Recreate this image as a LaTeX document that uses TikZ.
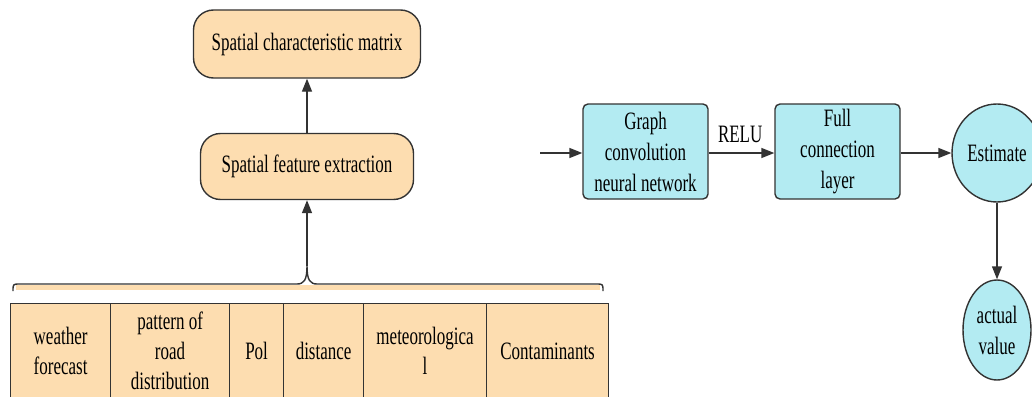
\documentclass[tikz,border=0pt]{standalone}
\usepackage{fontspec}
\setmainfont{Liberation Serif}[FakeStretch=0.68]
\usetikzlibrary{arrows.meta,shapes.geometric}
\definecolor{peach}{HTML}{FDDDB0}
\definecolor{cyanfill}{HTML}{B3EBF2}
\definecolor{edge}{HTML}{333333}
\begin{document}
\begin{tikzpicture}[x=1pt,y=-1pt,
  txt/.style={font=\fontsize{25}{31}\selectfont, align=center, text=black},
  pill/.style={txt, draw=edge, line width=1.4pt, fill=peach, rounded corners=20pt, inner sep=0pt},
  cbox/.style={txt, draw=edge, line width=1.4pt, fill=cyanfill, rounded corners=5pt, inner sep=0pt, minimum width=125pt, minimum height=95pt},
  cell/.style={txt, font=\fontsize{25}{30}\selectfont, draw=edge, line width=1.2pt, fill=peach, inner sep=0pt, minimum height=95pt, anchor=north west},
  oval/.style={txt, draw=edge, line width=1.4pt, fill=cyanfill, ellipse, inner sep=0pt},
  arr/.style={draw=edge, line width=1.4pt, -{Triangle[length=13pt,width=10pt]}}]
\useasboundingbox (0,0) rectangle (1032,396);
\begin{scope}
\clip (0,0) rectangle (1032,396);
% left part
\node[pill, minimum width=227pt, minimum height=68pt] (scm) at (307,44) {Spatial characteristic matrix};
\node[pill, minimum width=213pt, minimum height=66pt] (sfe) at (307,166.5) {Spatial feature extraction};
\draw[arr] (sfe) -- (scm);
% table
\node[cell, minimum width=100pt] (c1) at (10,303) {weather\\forecast};
\node[cell, minimum width=119pt] (c2) at (110,303) {pattern of\\road\\distribution};
\node[cell, minimum width=54pt] (c3) at (229,303) {Pol};
\node[cell, minimum width=80pt] (c4) at (283,303) {distance};
\node[cell, minimum width=123pt] (c5) at (363,303) {meteorologica\\l};
\node[cell, minimum width=122pt] (c6) at (486,303) {Contaminants};
% brace
\coordinate (tip) at (307,266);
\fill[peach] (16,285) rectangle (600,290);
\draw[draw=edge, line width=1.4pt, line join=round]
  (13,291) .. controls (13,284) .. (20,284) -- (297,284)
  .. controls (304,284) and (307,280) .. (tip)
  .. controls (307,280) and (310,284) .. (317,284) -- (596,284)
  .. controls (603,284) .. (603,291);
\draw[arr] (tip) -- (sfe);
% right part
\coordinate (in) at (540,153);
\node[cbox] (gcn) at (645.5,151.5) {Graph\\convolution\\neural network};
\node[cbox] (fcl) at (837.5,151.5) {Full\\connection\\layer};
\node[oval, minimum width=90pt, minimum height=98pt] (est) at (997,153) {Estimate};
\node[oval, minimum width=68pt, minimum height=100pt] (act) at (997,330) {actual\\value};
\draw[arr] (in) -- (gcn.west |- in);
\draw[arr] (gcn.east |- in) -- node[txt, above=6pt, pos=0.48] (relu) {RELU} (fcl.west |- in);
\draw[arr] (fcl.east |- in) -- (est.west |- in);
\draw[arr] (est) -- (act);
\end{scope}
\end{tikzpicture}
\end{document}
